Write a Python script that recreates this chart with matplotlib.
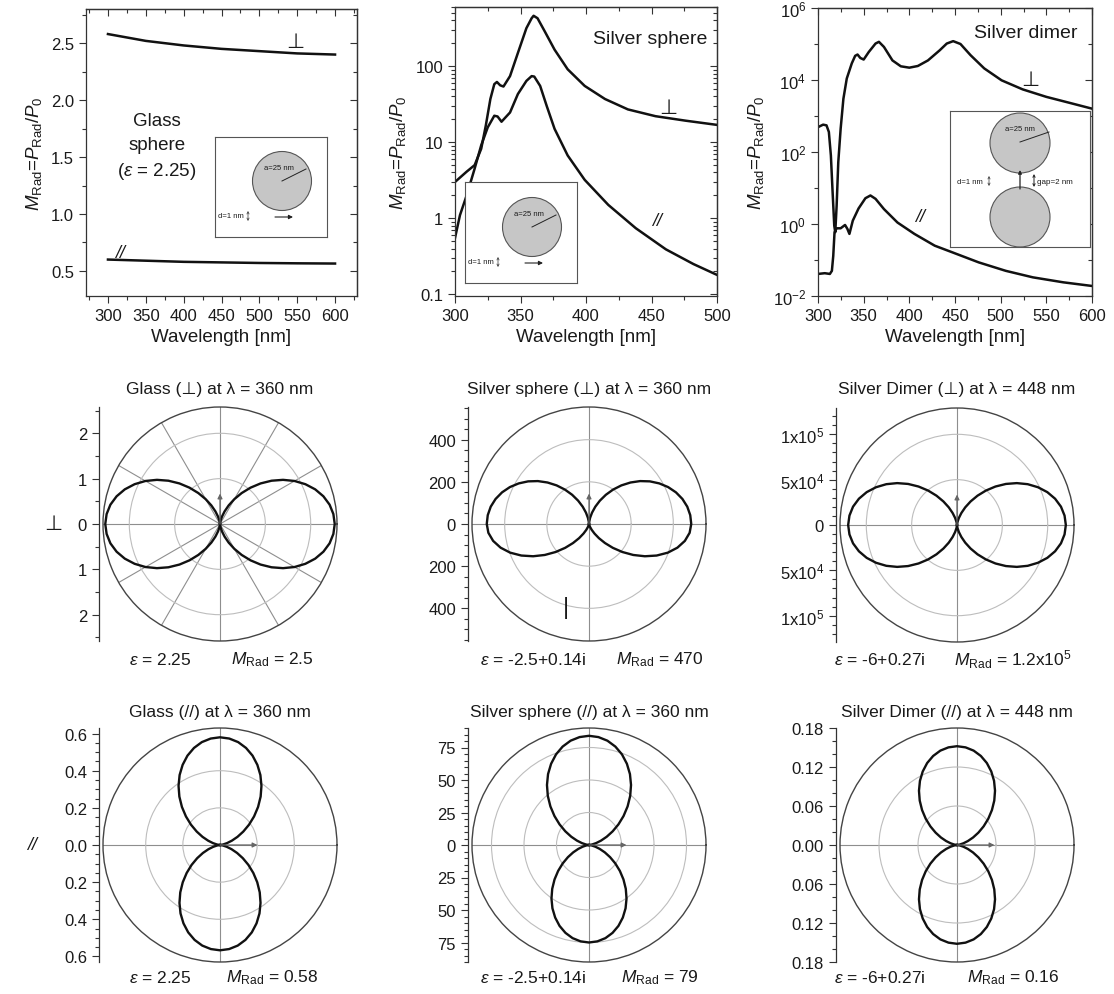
import numpy as np
import matplotlib
matplotlib.use('Agg')
import matplotlib.pyplot as plt
from matplotlib.ticker import (MultipleLocator, FixedLocator, LogLocator,
                               NullFormatter, FuncFormatter, AutoMinorLocator)
from matplotlib.patches import Circle

plt.rcParams['font.family'] = ['Liberation Sans', 'DejaVu Sans']
plt.rcParams['mathtext.fontset'] = 'custom'
plt.rcParams['mathtext.rm'] = 'Liberation Sans'
plt.rcParams['mathtext.it'] = 'Liberation Sans:italic'
plt.rcParams['mathtext.bf'] = 'Liberation Sans:bold'

W, H = 1114, 995
INK = '#1a1a1a'
LINE = '#111111'

# ---------------- spectra (top row) ----------------
glass_wl = [300, 350, 400, 450, 500, 550, 600]
glass_perp = [2.58, 2.52, 2.48, 2.45, 2.43, 2.41, 2.40]
glass_par = [0.60, 0.59, 0.58, 0.575, 0.57, 0.567, 0.565]

silver_wl_perp = [300, 308.9, 315, 320, 323.5, 327, 330, 332, 334.5, 337, 342,
                  348, 354.5, 358.5, 360, 363, 368.5, 376, 386, 399, 414.5,
                  432, 453, 476, 500]
silver_perp = [3.0, 4.1, 5.0, 8.2, 16.5, 37, 58, 62, 56, 54, 74,
               149, 316, 427, 460, 427, 287, 165, 91, 55, 37,
               27, 22, 19.2, 16.9]

silver_wl_par = [300, 303.8, 308.9, 315, 320, 325, 330, 332.5, 335.5, 342,
                 348, 354.5, 358.5, 360.5, 365, 370, 376, 386, 399, 417,
                 438, 461, 482, 500]
silver_par = [0.55, 1.1, 2.0, 4.5, 9.1, 15.7, 22.3, 21.8, 18.6, 24.6,
              43, 64, 74, 73, 55, 30, 15, 6.7, 3.2, 1.5,
              0.74, 0.39, 0.25, 0.18]

dimer_wl_perp = [300, 305.6, 309.3, 311.9, 314.1, 316, 317.8, 318.9, 320.4,
                 322.2, 324.8, 327.8, 331.5, 337, 340.7, 343.3, 346.3, 350,
                 355.6, 363, 366.7, 372.2, 381.5, 390.7, 400, 409.3, 420.4,
                 433.3, 441, 448, 456, 467, 482, 501, 524, 550, 576, 600]
dimer_perp = [490, 575, 550, 360, 80, 7.6, 0.9, 0.59, 3.2,
              52, 445, 3000, 11000, 29000, 47000, 51000, 41000, 37000,
              60000, 103000, 115000, 83000, 35000, 24000, 22000, 24500, 35000,
              67000, 103000, 120000, 100000, 49000, 21000, 9800, 5500, 3400, 2300, 1600]

dimer_wl_par = [300, 307.4, 313, 315.2, 316.7, 318.1, 320.4, 324.8, 329.6,
                332.2, 334.4, 338.1, 344.4, 351.9, 357.4, 363, 372.2, 387,
                405.6, 427.8, 448, 475.9, 505.6, 535.2, 568.5, 600]
dimer_par = [0.041, 0.043, 0.041, 0.05, 0.13, 0.59, 0.76, 0.76, 0.94,
             0.73, 0.53, 1.24, 2.7, 5.2, 6.2, 5.0, 2.6, 1.1,
             0.53, 0.25, 0.16, 0.086, 0.050, 0.033, 0.024, 0.019]

# ---------------- radiation patterns ----------------
psi_deg = [0, 5, 10, 15, 20, 25, 30, 35, 40, 45, 50, 55, 60, 65, 70, 75, 80, 85, 90]
shape_std = [1.0, .992, .970, .933, .883, .821, .750, .671, .587, .500,
             .413, .329, .250, .179, .117, .067, .030, .008, 0.0]
shape_wide = [1.0, .994, .976, .946, .905, .854, .794, .727, .653, .574,
              .493, .411, .330, .252, .180, .115, .061, .020, 0.0]
shape_narrow = [1.0, .988, .952, .895, .820, .730, .631, .528, .426, .330,
                .243, .169, .109, .064, .032, .013, .004, .0004, 0.0]

glass_perp_lobes = [2.53, 2.53]        # right, left
silver_perp_lobes = [485, 485]
dimer_perp_lobes = [1.2e5, 1.2e5]
glass_par_lobes = [0.58, 0.567]        # up, down
silver_par_lobes = [84, 75]
dimer_par_lobes = [0.152, 0.152]

YLABEL = r'$M_{\rm Rad}$=$P_{\rm Rad}$/$P_0$'

fig = plt.figure(figsize=(W / 100, H / 100), dpi=100)


def box(l, t, r, b):
    return [l / W, 1 - b / H, (r - l) / W, (b - t) / H]


def ftext(x, y, s, **kw):
    kw.setdefault('ha', 'center')
    kw.setdefault('va', 'center')
    kw.setdefault('color', INK)
    fig.text(x / W, 1 - y / H, s, **kw)


def style_ticks(a, direction):
    a.tick_params(which='both', direction=direction, colors='#333',
                  labelcolor=INK, labelsize=12, width=0.8)
    a.tick_params(which='major', length=5)
    a.tick_params(which='minor', length=3)


def spectrum_axes(rect, xlim, ylim, ylocs, log):
    ax = fig.add_axes(rect)
    ax.set_xlim(xlim)
    if log:
        ax.set_yscale('log')
    ax.set_ylim(ylim)
    for s in ax.spines.values():
        s.set_linewidth(0.9)
        s.set_color('#333')
    sx = ax.secondary_xaxis('top')
    sy = ax.secondary_yaxis('right')
    for a in (ax, sx):
        a.xaxis.set_major_locator(MultipleLocator(50))
        a.xaxis.set_minor_locator(MultipleLocator(25))
    for a in (ax, sy):
        major, minor = ylocs()
        a.yaxis.set_major_locator(major)
        a.yaxis.set_minor_locator(minor)
    style_ticks(ax, 'out')
    for a in (sx, sy):
        style_ticks(a, 'in')
        for s in a.spines.values():
            s.set_linewidth(0.9)
            s.set_color('#333')
    for axis in (sx.xaxis, sy.yaxis):
        axis.set_major_formatter(NullFormatter())
        axis.set_minor_formatter(NullFormatter())
    ax.set_xlabel('Wavelength [nm]', fontsize=13.5, labelpad=4, color=INK)
    ax.set_ylabel(YLABEL, fontsize=13.5, labelpad=5, color=INK)
    return ax


def sphere_inset(l, t, r, b):
    ia = fig.add_axes(box(l, t, r, b))
    ia.set_xlim(0, r - l)
    ia.set_ylim(0, b - t)
    ia.set_xticks([])
    ia.set_yticks([])
    for s in ia.spines.values():
        s.set_linewidth(0.8)
        s.set_color('#555')
    return ia


def single_sphere(ia):
    ia.add_patch(Circle((67, 56), 29.5, fc='#c6c6c6', ec='#555', lw=0.8))
    ia.plot([67, 91], [56, 68], color='#222', lw=0.7)
    ia.text(64, 70, 'a=25 nm', fontsize=5.5, ha='center', va='center', color=INK)
    ia.text(16, 21, 'd=1 nm', fontsize=5.5, ha='center', va='center', color=INK)
    ia.annotate('', xy=(33, 26), xytext=(33, 16),
                arrowprops=dict(arrowstyle='<->', lw=0.5, color='#333',
                                mutation_scale=4, shrinkA=0, shrinkB=0))
    ia.annotate('', xy=(78, 20), xytext=(60, 20),
                arrowprops=dict(arrowstyle='-|>', lw=0.8, color='#222',
                                mutation_scale=6, shrinkA=0, shrinkB=0))


# ---- panel 1: glass sphere ----
ax1 = spectrum_axes(box(86, 10, 357, 297), (271, 629), (0.28, 2.8),
                    lambda: (MultipleLocator(0.5), MultipleLocator(0.25)), False)
ax1.yaxis.set_major_formatter(FuncFormatter(lambda v, p: '%.1f' % v))
ax1.plot(glass_wl, glass_perp, color=LINE, lw=1.8)
ax1.plot(glass_wl, glass_par, color=LINE, lw=1.8)
ftext(295, 43, '⊥', fontsize=15)
ftext(120, 253, '//', fontsize=13, style='italic')
ftext(157, 148, 'Glass\nsphere\n(' + r'$\varepsilon$' + ' = 2.25)', fontsize=13.5,
      linespacing=1.5)
single_sphere(sphere_inset(215, 138, 327, 238))

# ---- panel 2: silver sphere ----
ax2 = spectrum_axes(box(455, 8, 717, 297), (300, 500), (0.095, 600),
                    lambda: (LogLocator(base=10), LogLocator(base=10, subs=np.arange(2, 10))),
                    True)
ax2.yaxis.set_major_formatter(FuncFormatter(lambda v, p: '%g' % v))
ax2.yaxis.set_minor_formatter(NullFormatter())
ax2.plot(silver_wl_perp, silver_perp, color=LINE, lw=1.8)
ax2.plot(silver_wl_par, silver_par, color=LINE, lw=1.8)
ftext(650, 40, 'Silver sphere', fontsize=14)
ftext(668, 108, '⊥', fontsize=15)
ftext(657, 222, '//', fontsize=13, style='italic')
single_sphere(sphere_inset(465, 183, 577, 284))

# ---- panel 3: silver dimer ----
ax3 = spectrum_axes(box(818, 9, 1092, 297), (300, 600), (1e-2, 1e6),
                    lambda: (FixedLocator([1e-2, 1, 1e2, 1e4, 1e6]),
                             FixedLocator([1e-1, 1e1, 1e3, 1e5])), True)
ax3.yaxis.set_major_formatter(
    FuncFormatter(lambda v, p: r'$\mathregular{10^{%d}}$' % round(np.log10(v))))
ax3.yaxis.set_minor_formatter(NullFormatter())
ax3.plot(dimer_wl_perp, dimer_perp, color=LINE, lw=1.8)
ax3.plot(dimer_wl_par, dimer_par, color=LINE, lw=1.8)
ftext(1026, 33, 'Silver dimer', fontsize=14)
ftext(1030, 80, '⊥', fontsize=15)
ftext(920, 218, '//', fontsize=13, style='italic')

ia3 = sphere_inset(950, 112, 1090, 248)
ia3.add_patch(Circle((70, 104), 30, fc='#c6c6c6', ec='#555', lw=0.8))
ia3.add_patch(Circle((70, 30), 30, fc='#c6c6c6', ec='#555', lw=0.8))
ia3.plot([70, 99], [105, 115], color='#222', lw=0.7)
ia3.text(70, 119, 'a=25 nm', fontsize=5.5, ha='center', va='center', color=INK)
ia3.text(20, 66, 'd=1 nm', fontsize=5.5, ha='center', va='center', color=INK)
ia3.annotate('', xy=(39, 71), xytext=(39, 61),
             arrowprops=dict(arrowstyle='<->', lw=0.5, color='#333',
                             mutation_scale=4, shrinkA=0, shrinkB=0))
ia3.annotate('', xy=(70, 77), xytext=(70, 58),
             arrowprops=dict(arrowstyle='-|>', lw=0.9, color='#222',
                             mutation_scale=5, shrinkA=0, shrinkB=0))
ia3.annotate('', xy=(84, 73), xytext=(84, 60),
             arrowprops=dict(arrowstyle='<->', lw=0.7, color='#222',
                             mutation_scale=4, shrinkA=0, shrinkB=0))
ia3.text(87, 66, 'gap=2 nm', fontsize=5.8, ha='left', va='center', color=INK)


# ---------------- polar panels ----------------
RPX = 117


def lobe(axis_deg, m, shape_ccw, shape_cw):
    psi = np.array(psi_deg, dtype=float)
    th = np.concatenate([axis_deg - psi[::-1], axis_deg + psi[1:]])
    r = np.concatenate([m * np.array(shape_cw)[::-1], m * np.array(shape_ccw)[1:]])
    return np.radians(th), r


def polar_panel(cx, cy, R, rgrids, tgrids, yticks, ylabels, nminor, lobes, arrow,
                title, eps, mrad, eps_x, m_x, title_y, note_y):
    rect = box(cx - RPX, cy - RPX, cx + RPX, cy + RPX)
    pax = fig.add_axes(rect, projection='polar')
    pax.set_ylim(0, R)
    pax.set_yticks(rgrids)
    pax.set_yticklabels([])
    pax.set_xticks(np.radians(tgrids))
    pax.set_xticklabels([])
    pax.tick_params(length=0)
    pax.yaxis.grid(True, color='#bdbdbd', lw=0.8)
    pax.xaxis.grid(True, color='#8e8e8e', lw=0.8)
    pax.spines['polar'].set_color('#444')
    pax.spines['polar'].set_linewidth(1.0)
    for th, r in lobes:
        pax.plot(th, r, color=LINE, lw=1.7)

    cax = fig.add_axes(rect, facecolor='none')
    cax.set_xlim(-R, R)
    cax.set_ylim(-R, R)
    for s in ('top', 'right', 'bottom'):
        cax.spines[s].set_visible(False)
    cax.spines['left'].set_position(('outward', 3))
    cax.spines['left'].set_linewidth(0.9)
    cax.spines['left'].set_color('#333')
    cax.xaxis.set_visible(False)
    cax.set_yticks(yticks)
    cax.set_yticklabels(ylabels)
    cax.yaxis.set_minor_locator(AutoMinorLocator(nminor))
    style_ticks(cax, 'out')
    cax.annotate('', xy=(arrow[0] * R, arrow[1] * R), xytext=(0, 0),
                 arrowprops=dict(arrowstyle='-|>', color='#666', lw=0.9,
                                 mutation_scale=7, shrinkA=0, shrinkB=0))
    ftext(cx, title_y, title, fontsize=12.5)
    ftext(eps_x, note_y, eps, fontsize=12.5)
    ftext(m_x, note_y, mrad, fontsize=12.5)
    return cax


def perp_lobes(m, up_shape=shape_std, down_shape=shape_std):
    return [lobe(0, m[0], up_shape, down_shape), lobe(180, m[1], down_shape, up_shape)]


def par_lobes(m):
    return [lobe(90, m[0], shape_std, shape_std), lobe(270, m[1], shape_std, shape_std)]


EPS = r'$\varepsilon$ = '
MR = r'$M_{\rm Rad}$ = '

polar_panel(220, 525, 2.58, [1, 2], [0, 30, 60, 90, 120, 150, 180, 210, 240, 270, 300, 330],
            [-2, -1, 0, 1, 2], ['2', '1', '0', '1', '2'], 2,
            perp_lobes(glass_perp_lobes), (0, 0.26),
            'Glass (⊥) at λ = 360 nm', EPS + '2.25', MR + '2.5', 160, 272, 390, 660)
sil = polar_panel(589, 525, 555, [200, 400], [0, 90, 180, 270],
                  [-400, -200, 0, 200, 400], ['400', '200', '0', '200', '400'], 4,
                  perp_lobes(silver_perp_lobes, shape_wide, shape_narrow), (0, 0.26),
                  'Silver sphere (⊥) at λ = 360 nm', EPS + '-2.5+0.14i', MR + '470',
                  533, 660, 390, 660)
sil.text(-109, -396, '|', fontsize=17, ha='center', va='center', color=INK)
polar_panel(957, 526, 1.29e5, [5e4, 1e5], [0, 90, 180, 270],
            [-1e5, -5e4, 0, 5e4, 1e5],
            [r'1x10$^5$', r'5x10$^4$', '0', r'5x10$^4$', r'1x10$^5$'], 5,
            perp_lobes(dimer_perp_lobes), (0, 0.26),
            'Silver Dimer (⊥) at λ = 448 nm', EPS + '-6+0.27i', MR + r'1.2x10$^5$',
            880, 1013, 390, 660)

polar_panel(220, 846, 0.63, [0.2, 0.4], [0, 90, 180, 270],
            [-0.6, -0.4, -0.2, 0, 0.2, 0.4, 0.6],
            ['0.6', '0.4', '0.2', '0.0', '0.2', '0.4', '0.6'], 4,
            par_lobes(glass_par_lobes), (0.32, 0),
            'Glass (//) at λ = 360 nm', EPS + '2.25', MR + '0.58', 160, 272, 713, 978)
polar_panel(589, 846, 90, [25, 50, 75], [0, 90, 180, 270],
            [-75, -50, -25, 0, 25, 50, 75], ['75', '50', '25', '0', '25', '50', '75'], 5,
            par_lobes(silver_par_lobes), (0.32, 0),
            'Silver sphere (//) at λ = 360 nm', EPS + '-2.5+0.14i', MR + '79',
            533, 660, 712, 978)
polar_panel(957, 846, 0.18, [0.06, 0.12], [0, 90, 180, 270],
            [-0.18, -0.12, -0.06, 0, 0.06, 0.12, 0.18],
            ['0.18', '0.12', '0.06', '0.00', '0.06', '0.12', '0.18'], 3,
            par_lobes(dimer_par_lobes), (0.32, 0),
            'Silver Dimer (//) at λ = 448 nm', EPS + '-6+0.27i', MR + '0.16',
            880, 1013, 712, 978)

ftext(53, 525, '⊥', fontsize=15)
ftext(32, 846, '//', fontsize=13, style='italic')

fig.savefig('out.png', dpi=100)
